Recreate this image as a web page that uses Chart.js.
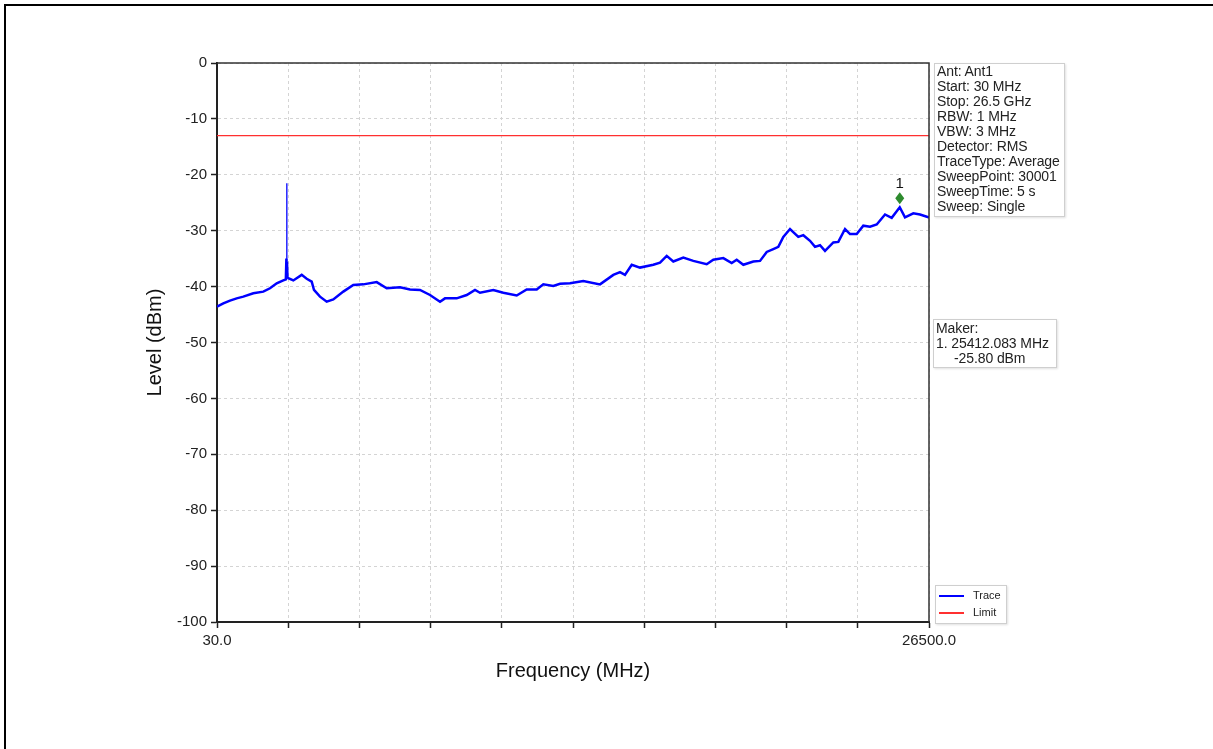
<!DOCTYPE html>
<html>
<head>
<meta charset="utf-8">
<title>Spectrum scan</title>
<script src="https://cdn.jsdelivr.net/npm/chart.js@4.4.1/dist/chart.umd.min.js"></script>
<style>
body { margin:0; width:1213px; height:749px; overflow:hidden; background:#fff; font-family:"Liberation Sans", Arial, sans-serif; }
#frame { position:absolute; left:4px; top:4px; width:1300px; height:800px; border-top:2px solid #000; border-left:2px solid #000; }
#wrap { position:absolute; left:0; top:0; width:1213px; height:749px; }
.box { position:absolute; background:#fff; border:1px solid #cfcfcf; box-shadow:1px 1px 2px rgba(0,0,0,0.12); font-size:14px; line-height:15px; color:#222; white-space:nowrap; }
#info { left:934px; top:63px; width:127px; height:152px; padding:0 0 0 2px; letter-spacing:-0.1px; }
#maker { left:933px; top:319px; width:120px; height:46px; padding:1px 0 0 2px; letter-spacing:-0.1px; }
#legend { left:935px; top:585px; width:70px; height:36px; font-size:11px; line-height:17px; padding-top:1px; }
#legend div { position:relative; padding-left:37px; }
#legend span { position:absolute; left:3px; top:8px; width:25px; height:2px; }
</style>
</head>
<body>
<div id="frame"></div>
<div id="wrap"><canvas id="chart"></canvas></div>
<div class="box" id="info"></div>
<div class="box" id="maker"></div>
<div class="box" id="legend"></div>
<script>
// frequency axis (MHz)
var xTicks = [30, 2677, 5324, 7971, 10618, 13265, 15912, 18559, 21206, 23853, 26500];

var traceFreq = [30, 265, 513, 762, 1008, 1380, 1751, 2000, 2250, 2495, 2590, 2610, 2621, 2632, 2650,
	2681, 2867, 3179, 3365, 3551, 3636, 3859, 4108, 4354, 4726, 5097, 5469, 5967, 6339, 6833,
	7205, 7577, 7949, 8321, 8506, 8941, 9313, 9622, 9808, 10302, 10674, 11172, 11544, 11916, 12161,
	12533, 12782, 13154, 13648, 14269, 14764, 15013, 15198, 15448, 15756, 16251, 16500, 16749, 16994,
	17366, 17738, 18236, 18481, 18853, 19165, 19351, 19597, 19969, 20218, 20467, 20712, 20898, 21084,
	21333, 21641, 21827, 22076, 22262, 22448, 22634, 22943, 23129, 23378, 23564, 23813, 24058, 24307,
	24556, 24865, 25113, 25412.083, 25608, 25917, 26166, 26475, 26500];
var traceLevel = [-43.6, -43.0, -42.5, -42.1, -41.8, -41.2, -40.9, -40.3, -39.4, -38.9, -38.7, -35.0, -21.5, -35.5, -38.3,
	-38.5, -38.9, -37.9, -38.6, -39.1, -40.6, -41.8, -42.7, -42.3, -40.9, -39.7, -39.6, -39.2, -40.3, -40.1,
	-40.5, -40.6, -41.5, -42.7, -42.1, -42.1, -41.5, -40.6, -41.1, -40.6, -41.1, -41.6, -40.5, -40.5, -39.6,
	-39.9, -39.5, -39.4, -39.0, -39.6, -37.9, -37.4, -37.9, -36.1, -36.6, -36.1, -35.7, -34.5, -35.5,
	-34.8, -35.4, -36.0, -35.2, -34.9, -35.8, -35.2, -36.1, -35.5, -35.4, -33.8, -33.3, -32.9, -31.1,
	-29.7, -31.1, -30.8, -31.8, -32.9, -32.6, -33.6, -32.1, -32.0, -29.7, -30.6, -30.6, -29.1, -29.3,
	-28.9, -27.1, -27.7, -25.8, -27.6, -26.9, -27.1, -27.6, -27.6];

// limit line
var limitFreq = [30, 26500];
var limitLevel = [-13, -13];

// marker 1
var markerFreq = [25412.083];
var markerLevel = [-25.8];

var infoLines = ["Ant: Ant1", "Start: 30 MHz", "Stop: 26.5 GHz", "RBW: 1 MHz", "VBW: 3 MHz",
	"Detector: RMS", "TraceType: Average", "SweepPoint: 30001", "SweepTime: 5 s", "Sweep: Single"];

function toPoints(xs, ys) {
	var pts = [];
	for (var i = 0; i < xs.length; i++) pts.push({x: xs[i], y: ys[i]});
	return pts;
}

// side boxes
var info = document.getElementById("info");
infoLines.forEach(function(t) {
	var d = document.createElement("div");
	d.textContent = t;
	info.appendChild(d);
});
document.getElementById("maker").innerHTML =
	"<div>Maker:</div><div>1. " + markerFreq[0].toFixed(3) + " MHz</div>" +
	"<div style='padding-left:18px'>" + markerLevel[0].toFixed(2) + " dBm</div>";

var legendItems = [["Trace", "#0000ff"], ["Limit", "#ff3030"]];
var legend = document.getElementById("legend");
legendItems.forEach(function(it) {
	var d = document.createElement("div");
	d.innerHTML = "<span style='background:" + it[1] + "'></span>" + it[0];
	legend.appendChild(d);
});

// closes the plot box and draws marker 1
var framePlugin = {
	id: "framePlugin",
	afterDraw: function(chart) {
		var a = chart.chartArea, c = chart.ctx;
		c.save();
		c.strokeStyle = "#333";
		c.lineWidth = 1.5;
		c.beginPath();
		c.moveTo(a.left, a.top);
		c.lineTo(a.right, a.top);
		c.lineTo(a.right, a.bottom);
		c.stroke();

		var px = chart.scales.x.getPixelForValue(markerFreq[0]);
		var py = chart.scales.y.getPixelForValue(markerLevel[0]) - 9;
		c.fillStyle = "#2e8b2e";
		c.beginPath();
		c.moveTo(px, py - 6);
		c.lineTo(px + 4.5, py);
		c.lineTo(px, py + 6);
		c.lineTo(px - 4.5, py);
		c.closePath();
		c.fill();
		c.fillStyle = "#111";
		c.font = "15px 'Liberation Sans', Arial, sans-serif";
		c.textAlign = "center";
		c.textBaseline = "bottom";
		c.fillText("1", px, py - 7);
		c.restore();
	}
};

var tickFont = { family: "'Liberation Sans', Arial, sans-serif", size: 15 };
var titleFont = { family: "'Liberation Sans', Arial, sans-serif", size: 20 };

new Chart(document.getElementById("chart"), {
	type: "scatter",
	data: {
		datasets: [
			{
				label: "Trace",
				data: toPoints(traceFreq, traceLevel),
				showLine: true,
				borderColor: "#0000ff",
				borderWidth: 2.5,
				pointRadius: 0,
				tension: 0,
				// the narrow spike is drawn thinner
				segment: {
					borderWidth: function(ctx) {
						return Math.abs(ctx.p1.parsed.y - ctx.p0.parsed.y) > 8 ? 1.3 : 2.5;
					}
				}
			},
			{
				label: "Limit",
				data: toPoints(limitFreq, limitLevel),
				showLine: true,
				borderColor: "#ff3030",
				borderWidth: 1.2,
				pointRadius: 0
			}
		]
	},
	options: {
		responsive: true,
		maintainAspectRatio: false,
		animation: false,
		layout: { padding: { left: 143, top: 63, right: 284, bottom: 60 } },
		plugins: {
			legend: { display: false },
			tooltip: { enabled: false }
		},
		scales: {
			x: {
				type: "linear",
				min: 30,
				max: 26500,
				afterBuildTicks: function(scale) {
					scale.ticks = xTicks.map(function(v) { return {value: v}; });
				},
				afterFit: function(scale) { scale.height = 67; },
				ticks: {
					autoSkip: false,
					maxRotation: 0,
					padding: 4,
					color: "#222",
					font: tickFont,
					callback: function(v, i, t) {
						return (i === 0 || i === t.length - 1) ? Number(v).toFixed(1) : "";
					}
				},
				grid: { color: "#d4d4d4", tickColor: "#222", tickLength: 6, tickWidth: 1.5 },
				border: { color: "#222", width: 2, dash: [3, 3] },
				title: { display: true, text: "Frequency (MHz)", color: "#111", font: titleFont, padding: { top: 0, bottom: 6 } }
			},
			y: {
				min: -100,
				max: 0,
				afterFit: function(scale) { scale.width = 74; },
				ticks: { stepSize: 10, padding: 4, color: "#222", font: tickFont },
				grid: { color: "#d4d4d4", tickColor: "#222", tickLength: 6, tickWidth: 1.5 },
				border: { color: "#222", width: 2, dash: [3, 3] },
				title: { display: true, text: "Level (dBm)", color: "#111", font: titleFont, padding: { top: 0, bottom: 0 } }
			}
		}
	},
	plugins: [framePlugin]
});
</script>
</body>
</html>
